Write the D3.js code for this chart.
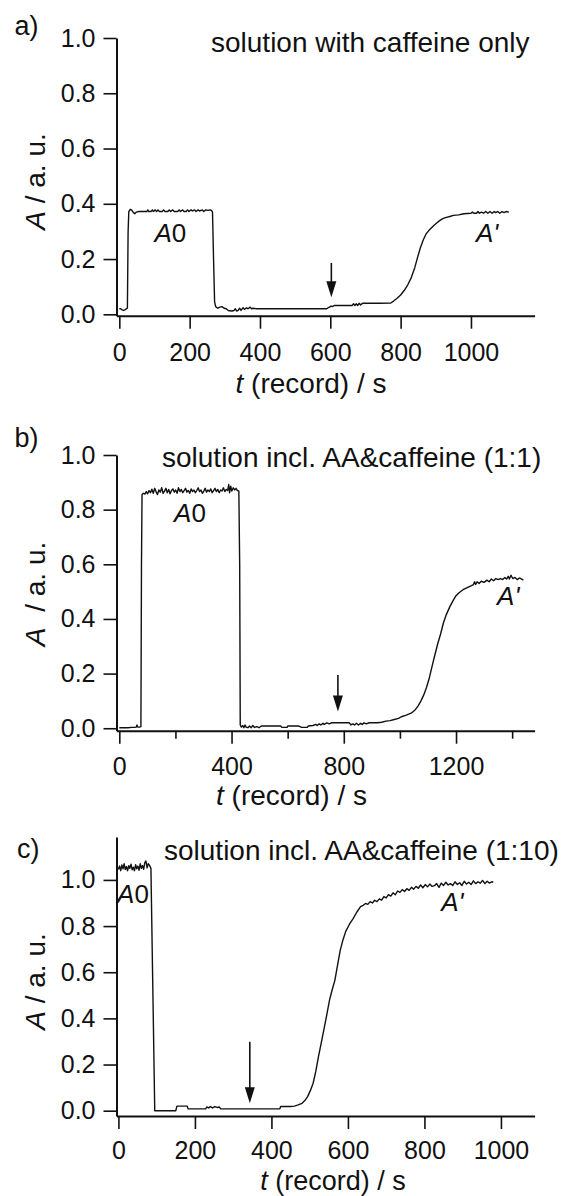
<!DOCTYPE html>
<html><head><meta charset="utf-8">
<script src="https://cdn.jsdelivr.net/npm/d3@7"></script>
<style>
body{margin:0;background:#fff}
text{font-family:"Liberation Sans",Arial,Helvetica,sans-serif;fill:#111}
</style></head><body>
<svg id="chart" width="571" height="1196"></svg>
<script>
// ---------- data ----------
const panelLetters = ["a)", "b)", "c)"];
const panelTitles = ["solution with caffeine only", "solution incl. AA&caffeine (1:1)", "solution incl. AA&caffeine (1:10)"];
const xTitle = "(record) / s";
const yTicks = [0, 0.2, 0.4, 0.6, 0.8, 1.0];
const xTicksA = [0, 200, 400, 600, 800, 1000];
const xTicksB = [0, 400, 800, 1200];
const xMinorTicksB = [200, 600, 1000, 1400];
const xTicksC = [0, 200, 400, 600, 800, 1000];
const arrowT = [603, 779, 343.5];
const arrowTop = [0.186, 0.195, 0.299];
const arrowTip = [0.062, 0.061, 0.032];

const curveA = [[0,0.020],[4,0.020],[8,0.016],[12,0.014],[16,0.016],[20,0.020],[23,0.022],[25,0.300],[27,0.372],[31,0.380],[36,0.376],[40,0.368],[44,0.364],[48,0.370],[56,0.372],[64,0.372],[72,0.372],[78,0.372],[81,0.378],[84,0.372],[90,0.372],[94,0.378],[97,0.372],[102,0.378],[106,0.372],[110,0.378],[114,0.372],[122,0.372],[126,0.378],[130,0.372],[138,0.372],[142,0.378],[146,0.372],[152,0.378],[156,0.372],[166,0.372],[170,0.378],[174,0.372],[180,0.378],[184,0.372],[190,0.372],[194,0.378],[198,0.372],[204,0.378],[208,0.374],[214,0.378],[218,0.372],[224,0.378],[228,0.374],[236,0.378],[240,0.372],[246,0.378],[252,0.376],[258,0.378],[262,0.376],[265,0.370],[268,0.200],[271,0.045],[274,0.028],[280,0.022],[286,0.026],[292,0.028],[298,0.022],[304,0.020],[310,0.014],[320,0.012],[326,0.014],[330,0.020],[334,0.012],[338,0.014],[342,0.022],[346,0.014],[352,0.024],[356,0.018],[362,0.024],[366,0.020],[372,0.026],[376,0.020],[380,0.022],[390,0.020],[420,0.020],[480,0.020],[540,0.020],[590,0.020],[594,0.024],[598,0.026],[602,0.030],[606,0.028],[612,0.032],[640,0.032],[662,0.032],[666,0.038],[670,0.032],[674,0.038],[678,0.032],[682,0.040],[686,0.034],[692,0.040],[700,0.040],[740,0.040],[772,0.041],[780,0.048],[790,0.058],[800,0.070],[810,0.086],[820,0.106],[830,0.132],[840,0.168],[848,0.205],[856,0.240],[864,0.268],[872,0.290],[880,0.303],[890,0.316],[900,0.328],[910,0.338],[920,0.346],[930,0.351],[940,0.354],[950,0.358],[965,0.360],[980,0.364],[1000,0.366],[1004,0.370],[1008,0.366],[1016,0.366],[1020,0.372],[1024,0.366],[1030,0.370],[1036,0.366],[1042,0.372],[1048,0.366],[1054,0.372],[1060,0.366],[1066,0.372],[1070,0.368],[1076,0.372],[1082,0.366],[1088,0.372],[1094,0.368],[1100,0.372],[1108,0.370]];

const curveB = [[0,0.002],[15,0.002],[30,0.002],[45,0.003],[55,0.003],[60,0.004],[63,0.012],[66,0.004],[72,0.004],[77,0.006],[79,0.600],[81,0.855],[86,0.860],[91,0.857],[96,0.866],[101,0.858],[106,0.870],[111,0.862],[116,0.875],[121,0.860],[126,0.878],[131,0.866],[136,0.855],[141,0.872],[146,0.864],[151,0.880],[156,0.860],[161,0.868],[166,0.878],[171,0.862],[176,0.874],[181,0.858],[186,0.870],[191,0.876],[196,0.864],[201,0.872],[206,0.860],[211,0.880],[216,0.866],[221,0.874],[226,0.862],[231,0.870],[236,0.878],[241,0.864],[246,0.870],[251,0.860],[256,0.876],[261,0.866],[266,0.872],[271,0.862],[276,0.870],[281,0.880],[286,0.866],[291,0.872],[296,0.860],[301,0.868],[306,0.878],[311,0.864],[316,0.872],[321,0.866],[326,0.876],[331,0.862],[336,0.870],[341,0.878],[346,0.866],[351,0.874],[356,0.862],[361,0.872],[366,0.868],[371,0.880],[376,0.866],[381,0.874],[386,0.870],[390,0.892],[393,0.862],[397,0.886],[401,0.868],[406,0.880],[411,0.872],[416,0.878],[421,0.870],[426,0.868],[429,0.600],[431,0.012],[435,0.004],[440,0.010],[444,0.002],[448,0.012],[452,0.004],[458,0.002],[464,0.008],[470,0.002],[476,0.010],[482,0.003],[490,0.006],[498,0.002],[506,0.008],[512,0.008],[540,0.008],[560,0.008],[575,0.008],[580,0.003],[598,0.003],[600,0.008],[640,0.008],[650,0.003],[670,0.003],[673,0.008],[690,0.010],[700,0.014],[705,0.010],[712,0.016],[718,0.012],[726,0.018],[730,0.014],[740,0.020],[748,0.016],[756,0.020],[765,0.020],[800,0.020],[820,0.020],[825,0.012],[832,0.016],[838,0.012],[845,0.018],[852,0.012],[860,0.018],[866,0.014],[872,0.020],[880,0.016],[890,0.020],[920,0.020],[935,0.022],[950,0.026],[965,0.028],[980,0.032],[995,0.036],[1005,0.042],[1020,0.047],[1040,0.055],[1055,0.068],[1065,0.082],[1075,0.100],[1085,0.122],[1095,0.150],[1105,0.185],[1115,0.228],[1125,0.270],[1135,0.310],[1145,0.345],[1155,0.385],[1165,0.415],[1178,0.445],[1190,0.468],[1200,0.485],[1212,0.497],[1225,0.507],[1240,0.515],[1255,0.522],[1262,0.526],[1266,0.536],[1270,0.526],[1275,0.536],[1282,0.530],[1290,0.538],[1300,0.534],[1310,0.542],[1318,0.536],[1326,0.546],[1334,0.540],[1342,0.548],[1350,0.544],[1358,0.548],[1366,0.544],[1374,0.552],[1380,0.546],[1386,0.556],[1390,0.546],[1396,0.560],[1402,0.548],[1410,0.552],[1418,0.544],[1426,0.550],[1434,0.546],[1440,0.542]];

const curveC = [[0,1.045],[3,1.060],[6,1.040],[9,1.065],[12,1.048],[15,1.070],[18,1.045],[21,1.058],[24,1.040],[27,1.062],[30,1.050],[33,1.068],[36,1.044],[39,1.055],[42,1.040],[45,1.066],[48,1.048],[51,1.060],[54,1.042],[57,1.070],[60,1.050],[63,1.062],[66,1.046],[69,1.075],[72,1.082],[75,1.052],[78,1.070],[81,1.064],[85,1.050],[95,0.000],[120,0.000],[150,0.000],[153,0.020],[180,0.020],[182,0.008],[228,0.008],[231,0.016],[236,0.012],[240,0.018],[246,0.012],[252,0.018],[258,0.014],[264,0.016],[267,0.008],[300,0.008],[350,0.008],[400,0.008],[422,0.008],[424,0.018],[450,0.018],[460,0.020],[470,0.025],[480,0.032],[488,0.045],[495,0.062],[502,0.088],[509,0.119],[516,0.170],[523,0.234],[530,0.292],[537,0.350],[545,0.418],[552,0.480],[559,0.525],[566,0.566],[573,0.632],[580,0.696],[587,0.740],[594,0.776],[604,0.808],[614,0.833],[623,0.860],[633,0.884],[640,0.890],[646,0.898],[652,0.894],[658,0.906],[664,0.900],[670,0.912],[676,0.906],[682,0.918],[688,0.912],[694,0.928],[700,0.922],[706,0.936],[712,0.930],[718,0.944],[724,0.936],[730,0.952],[736,0.946],[742,0.958],[748,0.950],[754,0.962],[760,0.955],[766,0.968],[772,0.960],[778,0.972],[784,0.964],[790,0.978],[796,0.966],[802,0.980],[808,0.970],[814,0.982],[820,0.972],[826,0.975],[832,0.984],[838,0.968],[844,0.986],[850,0.976],[856,0.990],[862,0.978],[868,0.984],[874,0.976],[880,0.992],[886,0.980],[892,0.988],[898,0.976],[904,0.994],[910,0.982],[916,0.990],[922,0.980],[928,0.996],[934,0.984],[940,0.992],[946,0.986],[952,0.998],[958,0.984],[964,0.994],[970,0.986],[976,0.992],[980,0.990]];

// ---------- layout ----------
const svg = d3.select("#chart");
const X0 = 116.5, X1 = 534.6;
const panels = [
  {data: curveA, xTicks: xTicksA, minor: [], xDom: [-8, 1181], yDom: [-0.005, 1.0], yPx: [315.7, 38],
   letter: [14.6, 35], title: [211, 52], xTitle: [311, 393], xTitleSize: 28, xPad: 15, yLab: 181.5, yLabGap: false,
   a0: [145, 0.262], ap: [1046, 0.262]},
  {data: curveB, xTicks: xTicksB, minor: xMinorTicksB, xDom: [-10, 1480], yDom: [-0.009, 1.0], yPx: [730.7, 455],
   letter: [14.6, 447], title: [162, 466.7], xTitle: [291.5, 805], xTitleSize: 28, xPad: 14, yLab: 594, yLabGap: true,
   a0: [252, 0.755], ap: [1386, 0.45]},
  {data: curveC, xTicks: xTicksC, minor: [], xDom: [-5, 1088], yDom: [-0.023, 1.186], yPx: [1116, 837],
   letter: [17, 858], title: [164, 860], xTitle: [333, 1189.5], xTitleSize: 27, xPad: 12, yLab: 981.5, yLabGap: false,
   a0: [38, 0.9], ap: [873, 0.865]}
];

panels.forEach((p, i) => {
  const x = d3.scaleLinear().domain(p.xDom).range([X0, X1]);
  const y = d3.scaleLinear().domain(p.yDom).range(p.yPx);
  const g = svg.append("g");

  // axes
  g.append("g").attr("transform", `translate(${X0},0)`)
    .call(d3.axisLeft(y).tickValues(yTicks).tickFormat(d3.format(".1f")).tickSize(13).tickSizeOuter(0).tickPadding(8));
  g.append("g").attr("transform", `translate(0,${p.yPx[0]})`)
    .call(d3.axisBottom(x).tickValues(p.xTicks).tickFormat(d3.format("d")).tickSize(13).tickSizeOuter(0).tickPadding(p.xPad));
  if (p.minor.length) {
    g.append("g").attr("transform", `translate(0,${p.yPx[0]})`)
      .call(d3.axisBottom(x).tickValues(p.minor).tickFormat("").tickSize(8).tickSizeOuter(0))
      .select(".domain").remove();
  }
  g.selectAll(".domain").attr("stroke", "#111").attr("stroke-width", 2);
  g.selectAll(".tick line").attr("stroke", "#111").attr("stroke-width", 1.6);
  g.selectAll(".tick text").attr("font-size", 25).attr("fill", "#111")
    .attr("font-family", '"Liberation Sans",Arial,sans-serif');

  // curve
  g.append("path").datum(p.data)
    .attr("fill", "none").attr("stroke", "#111").attr("stroke-width", 1.4).attr("stroke-linejoin", "round")
    .attr("d", d3.line().x(d => x(d[0])).y(d => y(d[1])));

  // arrow
  const ax = x(arrowT[i]), ay1 = y(arrowTop[i]), ay2 = y(arrowTip[i]);
  const hl = 16, hw = 5;
  g.append("line").attr("x1", ax).attr("x2", ax).attr("y1", ay1).attr("y2", ay2 - hl + 2)
    .attr("stroke", "#111").attr("stroke-width", 1.6);
  g.append("path").attr("d", `M${ax},${ay2} L${ax - hw},${ay2 - hl} L${ax + hw},${ay2 - hl} Z`).attr("fill", "#111");

  // texts
  g.append("text").attr("x", p.letter[0]).attr("y", p.letter[1]).attr("font-size", 27).text(panelLetters[i]);
  g.append("text").attr("x", p.title[0]).attr("y", p.title[1]).attr("font-size", 28).text(panelTitles[i]);
  const xt = g.append("text").attr("x", p.xTitle[0]).attr("y", p.xTitle[1]).attr("font-size", p.xTitleSize).attr("text-anchor", "middle");
  xt.append("tspan").attr("font-style", "italic").text("t");
  xt.append("tspan").text(" " + xTitle);
  const yl = g.append("text").attr("transform", `translate(45,${p.yLab}) rotate(-90)`).attr("font-size", 28).attr("text-anchor", "middle");
  yl.append("tspan").attr("font-style", "italic").text("A");
  yl.append("tspan").attr("dx", p.yLabGap ? 8 : 0).text(" / a. u.");

  const a0 = g.append("text").attr("x", x(p.a0[0])).attr("y", y(p.a0[1])).attr("font-size", 26).attr("text-anchor", "middle");
  a0.append("tspan").attr("font-style", "italic").text("A");
  a0.append("tspan").text("0");
  g.append("text").attr("x", x(p.ap[0])).attr("y", y(p.ap[1])).attr("font-size", 26).attr("text-anchor", "middle")
    .attr("font-style", "italic").text("A'");
});
</script>
</body></html>
